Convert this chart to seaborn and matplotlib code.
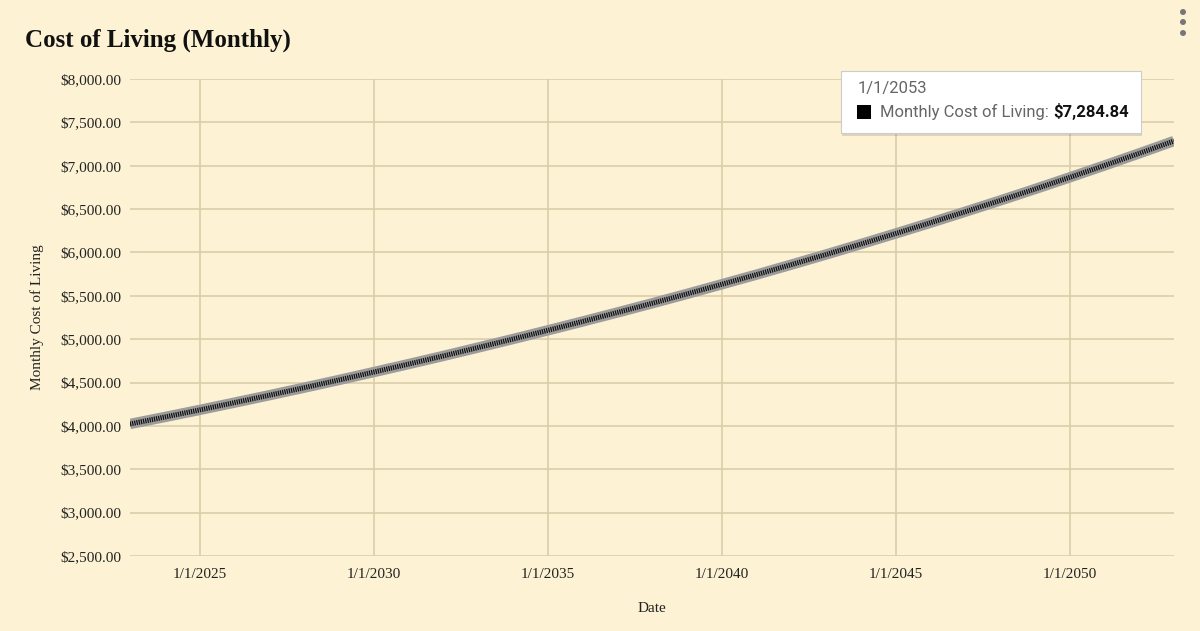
import pandas as pd
import matplotlib.pyplot as plt
import matplotlib.dates as mdates
import matplotlib.ticker as mticker
from matplotlib.patches import Rectangle, Ellipse
import seaborn as sns

# yearly values (1 Jan of each year)
years = list(range(2023, 2054))
monthly_cost = [4022, 4102, 4184, 4268, 4353, 4440, 4529, 4620, 4712, 4806,
                4903, 5001, 5101, 5203, 5307, 5413, 5521, 5632, 5744, 5859,
                5976, 6096, 6218, 6342, 6469, 6598, 6730, 6865, 7002, 7142,
                7284.84]
tick_years = [2025, 2030, 2035, 2040, 2045, 2050]
y_ticks = list(range(2500, 8001, 500))
tooltip_date = "1/1/2053"
tooltip_series = "Monthly Cost of Living"
tooltip_value = "$7,284.84"

df = pd.DataFrame({"Date": pd.to_datetime([f"{y}-01-01" for y in years]),
                   "Cost": monthly_cost})

bg = "#fdf2d3"
grid_col = "#d9cda9"

sns.set_theme(style="white")
plt.rcParams["font.family"] = ["Liberation Serif", "DejaVu Serif"]
plt.rcParams["lines.scale_dashes"] = False

fig = plt.figure(figsize=(12, 6.31), dpi=100, facecolor=bg)
ax = fig.add_axes([0.1083, 0.1189, 0.8700, 0.7559], facecolor=bg)

# thick grey band with black tick pattern on top
sns.lineplot(data=df, x="Date", y="Cost", ax=ax, color="#9c9c9c",
             linewidth=7.5, solid_capstyle="butt")
sns.lineplot(data=df, x="Date", y="Cost", ax=ax, color="#111111",
             linewidth=3.6, linestyle=(0, (0.9, 0.7)))

ax.set_xlim(df["Date"].min(), df["Date"].max())
ax.set_ylim(2500, 8000)
ax.set_yticks(y_ticks)
ax.yaxis.set_major_formatter(mticker.FuncFormatter(lambda v, p: f"${v:,.2f}"))
ax.set_xticks(pd.to_datetime([f"{y}-01-01" for y in tick_years]))
ax.xaxis.set_major_formatter(mticker.FuncFormatter(
    lambda v, p: "1/1/" + str(mdates.num2date(v).year)))

ax.grid(True, color=grid_col, linewidth=1.2)
ax.set_axisbelow(True)
for s in ax.spines.values():
    s.set_visible(False)
ax.tick_params(axis="both", length=0, labelsize=11, colors="#222222")
ax.tick_params(axis="y", pad=6)
ax.tick_params(axis="x", pad=9)

ax.set_xlabel("Date", fontsize=11, color="#222222", labelpad=15)
ax.set_ylabel("Monthly Cost of Living", fontsize=11, color="#222222", labelpad=12)

fig.text(25 / 1200, 1 - 40 / 631, "Cost of Living (Monthly)", fontsize=18,
         fontweight="bold", va="center", ha="left", color="#111111")

# three-dot menu
for yy in (12, 22, 33):
    fig.patches.append(Ellipse((1183 / 1200, 1 - yy / 631), 6 / 1200, 6 / 631,
                               transform=fig.transFigure, facecolor="#777777",
                               edgecolor="none"))

# tooltip box
bx, by, bw, bh = 841 / 1200, 1 - 133 / 631, 300 / 1200, 62 / 631
fig.patches.append(Rectangle((bx + 0.001, by - 0.004), bw, bh,
                             transform=fig.transFigure, facecolor="#000000",
                             alpha=0.12, edgecolor="none", zorder=5))
fig.patches.append(Rectangle((bx, by), bw, bh, transform=fig.transFigure,
                             facecolor="white", edgecolor="#cccccc",
                             linewidth=0.8, zorder=6))
tip_font = ["Roboto", "DejaVu Sans"]
fig.text(858 / 1200, 1 - 89 / 631, tooltip_date, family=tip_font, fontsize=12,
         color="#666666", va="center", ha="left", zorder=7)
fig.patches.append(Rectangle((857 / 1200, 1 - 119 / 631), 14 / 1200, 14 / 631,
                             transform=fig.transFigure, facecolor="black",
                             edgecolor="none", zorder=7))
t1 = fig.text(880 / 1200, 1 - 112 / 631, tooltip_series + ":", family=tip_font,
              fontsize=12, color="#666666", va="center", ha="left", zorder=7)
fig.canvas.draw()
ext = t1.get_window_extent()
fig.text(ext.x1 / fig.bbox.width + 4 / 1200, 1 - 112 / 631, tooltip_value,
         family=tip_font, fontsize=12, fontweight="bold", color="#111111",
         va="center", ha="left", zorder=7)

fig.savefig("out.png", dpi=100, facecolor=bg)
